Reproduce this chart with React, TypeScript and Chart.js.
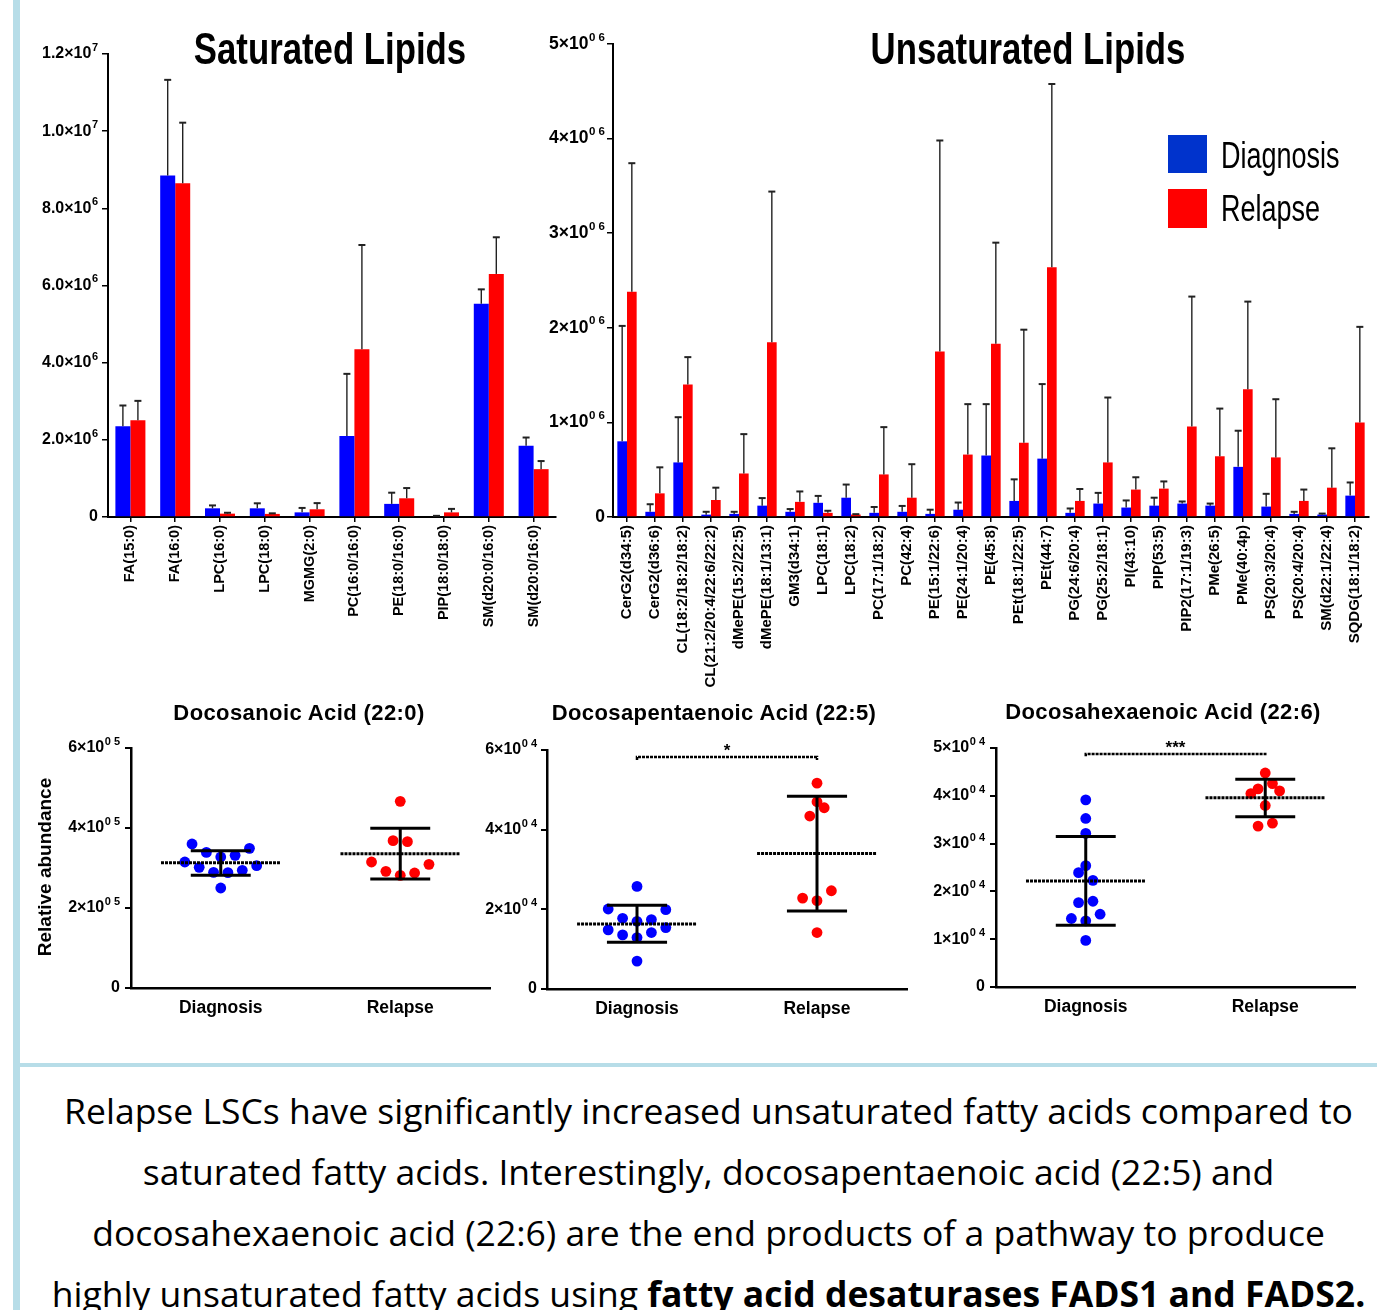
import React, { useEffect, useRef } from "react";
import { Chart, registerables } from "chart.js";
Chart.register(...registerables);

const FONT = '"Liberation Sans", Arial, Helvetica, sans-serif';
const TEXT_FONT = '"Open Sans", "Noto Sans", sans-serif';
const BLUE = "#0000FF";
const RED = "#FF0000";

// ---------------- Saturated lipids ----------------
const satLabels = ["FA(15:0)", "FA(16:0)", "LPC(16:0)", "LPC(18:0)", "MGMG(2:0)", "PC(16:0/16:0)", "PE(18:0/16:0)", "PIP(18:0/18:0)", "SM(d20:0/16:0)", "SM(d20:0/16:0)"];
const satDiag = [2.355e6, 8.85e6, 0.225e6, 0.225e6, 0.12e6, 2.1e6, 0.34e6, 0.02e6, 5.525e6, 1.845e6];
const satDiagUpper = [2.89e6, 11.33e6, 0.3e6, 0.355e6, 0.235e6, 3.71e6, 0.63e6, 0.03e6, 5.9e6, 2.06e6];
const satRel = [2.51e6, 8.65e6, 0.087e6, 0.08e6, 0.2e6, 4.35e6, 0.485e6, 0.12e6, 6.3e6, 1.24e6];
const satRelUpper = [3.01e6, 10.22e6, 0.11e6, 0.095e6, 0.36e6, 7.05e6, 0.75e6, 0.21e6, 7.25e6, 1.45e6];
const satTickBase = ["0", "2.0×10", "4.0×10", "6.0×10", "8.0×10", "1.0×10", "1.2×10"];
const satTickExp = ["", "6", "6", "6", "6", "7", "7"];

// ---------------- Unsaturated lipids ----------------
const unsatLabels = ["CerG2(d34:5)", "CerG2(d36:6)", "CL(18:2/18:2/18:2)", "CL(21:2/20:4/22:6/22:2)", "dMePE(15:2/22:5)", "dMePE(18:1/13:1)", "GM3(d34:1)", "LPC(18:1)", "LPC(18:2)", "PC(17:1/18:2)", "PC(42:4)", "PE(15:1/22:6)", "PE(24:1/20:4)", "PE(45:8)", "PEt(18:1/22:5)", "PEt(44:7)", "PG(24:6/20:4)", "PG(25:2/18:1)", "PI(43:10)", "PIP(53:5)", "PIP2(17:1/19:3)", "PMe(26:5)", "PMe(40:4p)", "PS(20:3/20:4)", "PS(20:4/20:4)", "SM(d22:1/22:4)", "SQDG(18:1/18:2)"];
const unsatDiag = [0.8e6, 0.055e6, 0.577e6, 0.025e6, 0.033e6, 0.12e6, 0.055e6, 0.15e6, 0.204e6, 0.044e6, 0.055e6, 0.033e6, 0.077e6, 0.65e6, 0.17e6, 0.617e6, 0.044e6, 0.142e6, 0.1e6, 0.12e6, 0.142e6, 0.12e6, 0.53e6, 0.11e6, 0.033e6, 0.026e6, 0.226e6];
const unsatDiagUpper = [2.02e6, 0.135e6, 1.055e6, 0.055e6, 0.055e6, 0.2e6, 0.084e6, 0.223e6, 0.343e6, 0.106e6, 0.117e6, 0.077e6, 0.153e6, 1.193e6, 0.398e6, 1.405e6, 0.09e6, 0.255e6, 0.175e6, 0.204e6, 0.164e6, 0.142e6, 0.912e6, 0.245e6, 0.055e6, 0.036e6, 0.365e6];
const unsatRel = [2.38e6, 0.25e6, 1.4e6, 0.18e6, 0.46e6, 1.847e6, 0.16e6, 0.044e6, 0.026e6, 0.45e6, 0.204e6, 1.75e6, 0.66e6, 1.832e6, 0.785e6, 2.64e6, 0.17e6, 0.577e6, 0.29e6, 0.3e6, 0.956e6, 0.642e6, 1.35e6, 0.63e6, 0.17e6, 0.31e6, 1.0e6];
const unsatRelUpper = [3.74e6, 0.525e6, 1.69e6, 0.31e6, 0.876e6, 3.44e6, 0.27e6, 0.066e6, 0.03e6, 0.95e6, 0.558e6, 3.98e6, 1.193e6, 2.9e6, 1.98e6, 4.577e6, 0.296e6, 1.263e6, 0.42e6, 0.376e6, 2.33e6, 1.146e6, 2.277e6, 1.245e6, 0.29e6, 0.726e6, 2.01e6];
const unsatTickBase = ["0", "1×10", "2×10", "3×10", "4×10", "5×10"];
const unsatTickExp = ["", "0 6", "0 6", "0 6", "0 6", "0 6"];

// ---------------- Scatter panels ----------------
const groups = ["Diagnosis", "Relapse"];

const c220Diag = [360000, 339000, 315000, 301700, 289200, 327500, 288300, 331700, 294200, 349200, 305800, 250000];
const c220DiagJitter = [-0.16, -0.08, -0.2, -0.12, -0.04, 0, 0.04, 0.08, 0.12, 0.16, 0.2, 0];
const c220Rel = [466700, 368300, 365800, 315000, 309200, 291700, 281700, 287500];
const c220RelJitter = [0, -0.04, 0.04, -0.16, 0.16, -0.08, 0, 0.08];
const c220Mean = [313300, 335800];
const c220SdLow = [281700, 272500];
const c220SdHigh = [343300, 399200];
const c220TickBase = ["0", "2×10", "4×10", "6×10"];
const c220TickExp = ["", "0 5", "0 5", "0 5"];

const c225Diag = [25750, 20080, 19920, 17750, 17000, 17420, 14830, 15420, 13580, 12920, 14170, 7000];
const c225DiagJitter = [0, -0.16, 0.16, -0.08, 0, 0.08, -0.16, 0.16, -0.08, 0, 0.08, 0];
const c225Rel = [51670, 47000, 45500, 43420, 24670, 22830, 22170, 14170];
const c225RelJitter = [0, 0, 0.04, -0.04, 0.08, -0.08, 0, 0];
const c225Mean = [16330, 34000];
const c225SdLow = [11750, 19580];
const c225SdHigh = [21000, 48420];
const c225Bracket = [57500, 58250];
const c225Sig = "*";
const c225TickBase = ["0", "2×10", "4×10", "6×10"];
const c225TickExp = ["", "0 4", "0 4", "0 4"];

const c226Diag = [39150, 35260, 32130, 25380, 23920, 22320, 17660, 17940, 14330, 13840, 15230, 9740];
const c226DiagJitter = [0, 0, 0, 0, -0.04, 0.04, -0.04, 0.04, -0.08, 0, 0.08, 0];
const c226Rel = [44780, 42560, 41450, 40470, 41030, 37970, 33660, 34280];
const c226RelJitter = [0, 0.04, -0.04, -0.08, 0.08, 0, -0.04, 0.04];
const c226Mean = [22180, 39570];
const c226SdLow = [12930, 35600];
const c226SdHigh = [31500, 43460];
const c226Bracket = [48300, 48750];
const c226Sig = "***";
const c226TickBase = ["0", "1×10", "2×10", "3×10", "4×10", "5×10"];
const c226TickExp = ["", "0 4", "0 4", "0 4", "0 4", "0 4"];

// ---------------- Plugins ----------------
const errorBarPlugin = {
  id: "errorBars",
  afterDatasetsDraw(chart: any) {
    const { ctx } = chart;
    const y = chart.scales.y;
    chart.data.datasets.forEach((ds: any, i: number) => {
      if (!ds.upper) return;
      const meta = chart.getDatasetMeta(i);
      meta.data.forEach((el: any, j: number) => {
        const yTop = y.getPixelForValue(ds.upper[j]);
        ctx.save();
        ctx.strokeStyle = "#222";
        ctx.lineWidth = 1.4;
        ctx.beginPath();
        ctx.moveTo(el.x, el.y);
        ctx.lineTo(el.x, yTop);
        ctx.stroke();
        ctx.lineWidth = 2;
        ctx.beginPath();
        ctx.moveTo(el.x - 3.5, yTop);
        ctx.lineTo(el.x + 3.5, yTop);
        ctx.stroke();
        ctx.restore();
      });
    });
  },
};

const sciTickPlugin = {
  id: "sciTicks",
  afterDraw(chart: any, _args: any, opts: any) {
    const s = chart.scales.y;
    const { ctx } = chart;
    const { base, exp, size, expSize, gap } = opts;
    s.ticks.forEach((t: any, i: number) => {
      const y = s.getPixelForValue(t.value);
      let x = s.right - gap;
      ctx.save();
      ctx.fillStyle = "#000";
      ctx.textBaseline = "middle";
      ctx.textAlign = "right";
      if (exp[i]) {
        ctx.font = `bold ${expSize}px ${FONT}`;
        ctx.fillText(exp[i], x, y - size * 0.38);
        x -= ctx.measureText(exp[i]).width + 0.5;
      }
      ctx.font = `bold ${size}px ${FONT}`;
      ctx.fillText(base[i], x, y);
      ctx.restore();
    });
  },
};

const sigPlugin = {
  id: "sigLabel",
  afterDatasetsDraw(chart: any, _args: any, opts: any) {
    if (!opts || !opts.text) return;
    const { ctx } = chart;
    const x = chart.scales.x.getPixelForValue(0.5);
    const y = chart.scales.y.getPixelForValue(opts.value);
    ctx.save();
    ctx.fillStyle = "#000";
    ctx.font = `bold 17px ${FONT}`;
    ctx.textAlign = "center";
    ctx.textBaseline = "alphabetic";
    ctx.fillText(opts.text, x, y - 1);
    ctx.restore();
  },
};

// ---------------- Config builders ----------------
function barConfig(p: any) {
  return {
    type: "bar",
    data: {
      labels: p.labels,
      datasets: [
        { label: "Diagnosis", data: p.diag, upper: p.diagUpper, backgroundColor: BLUE, borderWidth: 0, categoryPercentage: p.cat, barPercentage: 1 },
        { label: "Relapse", data: p.rel, upper: p.relUpper, backgroundColor: RED, borderWidth: 0, categoryPercentage: p.cat, barPercentage: 1 },
      ],
    },
    options: {
      responsive: false,
      animation: false,
      devicePixelRatio: 1,
      layout: { padding: { top: p.padTop, right: p.padRight, left: 0, bottom: 0 } },
      plugins: {
        legend: { display: false },
        tooltip: { enabled: false },
        sciTicks: { base: p.tickBase, exp: p.tickExp, size: p.tickSize, expSize: p.expSize, gap: p.gap },
      },
      scales: {
        x: {
          type: "category",
          offset: true,
          grid: { display: true, offset: false, drawOnChartArea: false, drawTicks: true, tickLength: 5, color: "#000", lineWidth: 1.5 },
          border: { display: true, color: "#000", width: 2 },
          ticks: { autoSkip: false, minRotation: 90, maxRotation: 90, padding: 3, color: "#000", font: { family: FONT, size: p.labelSize, weight: "bold" } },
          afterFit: (s: any) => { s.height = p.xH; },
        },
        y: {
          min: 0,
          max: p.max,
          ticks: { stepSize: p.step, display: false },
          grid: { display: true, drawOnChartArea: false, drawTicks: true, tickLength: 6, color: "#000", lineWidth: 1.5 },
          border: { display: true, color: "#000", width: 2 },
          afterFit: (s: any) => { s.width = p.yW; },
        },
      },
    },
    plugins: [errorBarPlugin, sciTickPlugin],
  };
}

function lineDs(points: any[], width: number, dash: number[]) {
  return { type: "scatter", data: points, showLine: true, borderColor: "#000", borderWidth: width, borderDash: dash, pointRadius: 0, fill: false, order: 0 };
}

function scatterConfig(p: any) {
  const ds: any[] = [];
  for (let g = 0; g < 2; g++) {
    ds.push(lineDs([{ x: g - 0.333, y: p.mean[g] }, { x: g + 0.333, y: p.mean[g] }], 3, [3, 1]));
    ds.push(lineDs([{ x: g, y: p.sdLow[g] }, { x: g, y: p.sdHigh[g] }], 3, []));
    ds.push(lineDs([{ x: g - 0.167, y: p.sdLow[g] }, { x: g + 0.167, y: p.sdLow[g] }], 3, []));
    ds.push(lineDs([{ x: g - 0.167, y: p.sdHigh[g] }, { x: g + 0.167, y: p.sdHigh[g] }], 3, []));
  }
  if (p.bracket) {
    ds.push(lineDs([{ x: 0, y: p.bracket[0] }, { x: 0, y: p.bracket[1] }, { x: 1, y: p.bracket[1] }, { x: 1, y: p.bracket[0] }], 2.5, [3, 1]));
  }
  ds.push({ type: "scatter", data: p.diag.map((v: number, i: number) => ({ x: 0 + p.diagJ[i], y: v })), backgroundColor: BLUE, borderWidth: 0, pointRadius: 5.4, order: 1 });
  ds.push({ type: "scatter", data: p.rel.map((v: number, i: number) => ({ x: 1 + p.relJ[i], y: v })), backgroundColor: RED, borderWidth: 0, pointRadius: 5.4, order: 1 });
  return {
    type: "scatter",
    data: { datasets: ds },
    options: {
      responsive: false,
      animation: false,
      devicePixelRatio: 1,
      layout: { padding: { top: p.padTop, right: p.padRight, left: 0, bottom: 0 } },
      plugins: {
        legend: { display: false },
        tooltip: { enabled: false },
        sciTicks: { base: p.tickBase, exp: p.tickExp, size: 16, expSize: 11, gap: p.gap },
        sigLabel: p.bracket ? { text: p.sig, value: p.bracket[1] } : {},
      },
      scales: {
        x: {
          type: "linear",
          min: -0.5,
          max: 1.5,
          afterBuildTicks: (s: any) => { s.ticks = [{ value: 0 }, { value: 1 }]; },
          ticks: { callback: (_v: any, i: number) => groups[i], padding: 2, color: "#000", font: { family: FONT, size: 17.5, weight: "bold" } },
          grid: { display: false },
          border: { display: true, color: "#000", width: 2.5, dash: [3, 1] },
          afterFit: (s: any) => { s.height = p.xH; },
        },
        y: {
          min: 0,
          max: p.max,
          ticks: { stepSize: p.step, display: false },
          grid: { display: true, drawOnChartArea: false, drawTicks: true, tickLength: 6, color: "#000", lineWidth: 2 },
          border: { display: true, color: "#000", width: 2.5, dash: [3, 1] },
          afterFit: (s: any) => { s.width = p.yW; },
        },
      },
    },
    plugins: [sciTickPlugin, sigPlugin],
  };
}

function ChartBox({ left, top, width, height, config }: any) {
  const ref = useRef<HTMLCanvasElement | null>(null);
  useEffect(() => {
    const chart = new Chart(ref.current as HTMLCanvasElement, config() as any);
    return () => chart.destroy();
  }, []);
  return (
    <div style={{ position: "absolute", left, top, width, height }}>
      <canvas ref={ref} width={width} height={height} style={{ width, height, display: "block" }} />
    </div>
  );
}

const abs = (o: any) => ({ position: "absolute" as const, ...o });

const titleStyle = (left: number) => abs({ left, top: 22, width: 500, textAlign: "center", fontFamily: FONT, fontWeight: "bold", fontSize: 44, lineHeight: "54px", color: "#000", whiteSpace: "nowrap", transform: "scaleX(0.79)", transformOrigin: "center" });
const legendText = (top: number) => abs({ left: 1221, top, fontFamily: FONT, fontSize: 36, lineHeight: "44px", color: "#000", whiteSpace: "nowrap", transform: "scaleX(0.75)", transformOrigin: "left center" });
const panelTitle = (left: number, top: number) => abs({ left, top, width: 400, textAlign: "center", fontFamily: FONT, fontWeight: "bold", fontSize: 22, letterSpacing: 0.4, lineHeight: "30px", whiteSpace: "nowrap" });

export default function App() {
  return (
    <div style={{ position: "relative", width: 1377, height: 1310, overflow: "hidden", background: "#fff", fontFamily: FONT }}>
      <style>{"body{margin:0;}"}</style>
      <div style={abs({ left: 13, top: 0, width: 7, height: 1310, background: "#B7DDE8" })} />
      <div style={abs({ left: 13, top: 1063, width: 1364, height: 4, background: "#B7DDE8" })} />

      <ChartBox left={0} top={0} width={560} height={700}
        config={() => barConfig({ labels: satLabels, diag: satDiag, diagUpper: satDiagUpper, rel: satRel, relUpper: satRelUpper, max: 1.2e7, step: 2e6, tickBase: satTickBase, tickExp: satTickExp, tickSize: 16, expSize: 11, labelSize: 14.5, yW: 108, xH: 183, padTop: 54, padRight: 4, cat: 0.67, gap: 10 })} />
      <ChartBox left={540} top={0} width={837} height={700}
        config={() => barConfig({ labels: unsatLabels, diag: unsatDiag, diagUpper: unsatDiagUpper, rel: unsatRel, relUpper: unsatRelUpper, max: 5e6, step: 1e6, tickBase: unsatTickBase, tickExp: unsatTickExp, tickSize: 17.5, expSize: 11.5, labelSize: 15, yW: 73, xH: 183, padTop: 44, padRight: 8, cat: 0.69, gap: 8 })} />

      <div style={titleStyle(80)}>Saturated Lipids</div>
      <div style={titleStyle(778)}>Unsaturated Lipids</div>

      <div style={abs({ left: 1168, top: 135, width: 39, height: 38, background: "#0033CC" })} />
      <div style={abs({ left: 1168, top: 189, width: 39, height: 39, background: "#FF0000" })} />
      <div style={legendText(134)}>Diagnosis</div>
      <div style={legendText(187)}>Relapse</div>

      <ChartBox left={0} top={690} width={500} height={340}
        config={() => scatterConfig({ diag: c220Diag, diagJ: c220DiagJitter, rel: c220Rel, relJ: c220RelJitter, mean: c220Mean, sdLow: c220SdLow, sdHigh: c220SdHigh, max: 6e5, step: 2e5, tickBase: c220TickBase, tickExp: c220TickExp, yW: 131, xH: 42, padTop: 58, padRight: 10, gap: 11 })} />
      <ChartBox left={470} top={690} width={460} height={340}
        config={() => scatterConfig({ diag: c225Diag, diagJ: c225DiagJitter, rel: c225Rel, relJ: c225RelJitter, mean: c225Mean, sdLow: c225SdLow, sdHigh: c225SdHigh, bracket: c225Bracket, sig: c225Sig, max: 6e4, step: 2e4, tickBase: c225TickBase, tickExp: c225TickExp, yW: 77, xH: 41, padTop: 60, padRight: 23, gap: 10 })} />
      <ChartBox left={920} top={690} width={457} height={340}
        config={() => scatterConfig({ diag: c226Diag, diagJ: c226DiagJitter, rel: c226Rel, relJ: c226RelJitter, mean: c226Mean, sdLow: c226SdLow, sdHigh: c226SdHigh, bracket: c226Bracket, sig: c226Sig, max: 5e4, step: 1e4, tickBase: c226TickBase, tickExp: c226TickExp, yW: 76, xH: 43, padTop: 58, padRight: 22, gap: 11 })} />

      <div style={panelTitle(99, 698)}>Docosanoic Acid (22:0)</div>
      <div style={panelTitle(514, 698)}>Docosapentaenoic Acid (22:5)</div>
      <div style={panelTitle(963, 697)}>Docosahexaenoic Acid (22:6)</div>
      <div style={abs({ left: 45 - 150, top: 867 - 14, width: 300, height: 28, textAlign: "center", fontWeight: "bold", fontSize: 19, lineHeight: "28px", transform: "rotate(-90deg)", whiteSpace: "nowrap" })}>Relative abundance</div>

      <div style={abs({ left: 30, top: 1080, width: 1357, textAlign: "center", fontFamily: TEXT_FONT, fontSize: 35.5, lineHeight: "61px", color: "#000", whiteSpace: "nowrap" })}>
        <div>Relapse LSCs have significantly increased unsaturated fatty acids compared to</div>
        <div>saturated fatty acids. Interestingly, docosapentaenoic acid (22:5) and</div>
        <div>docosahexaenoic acid (22:6) are the end products of a pathway to produce</div>
        <div>highly unsaturated fatty acids using <b>fatty acid desaturases FADS1 and FADS2.</b></div>
      </div>
    </div>
  );
}
